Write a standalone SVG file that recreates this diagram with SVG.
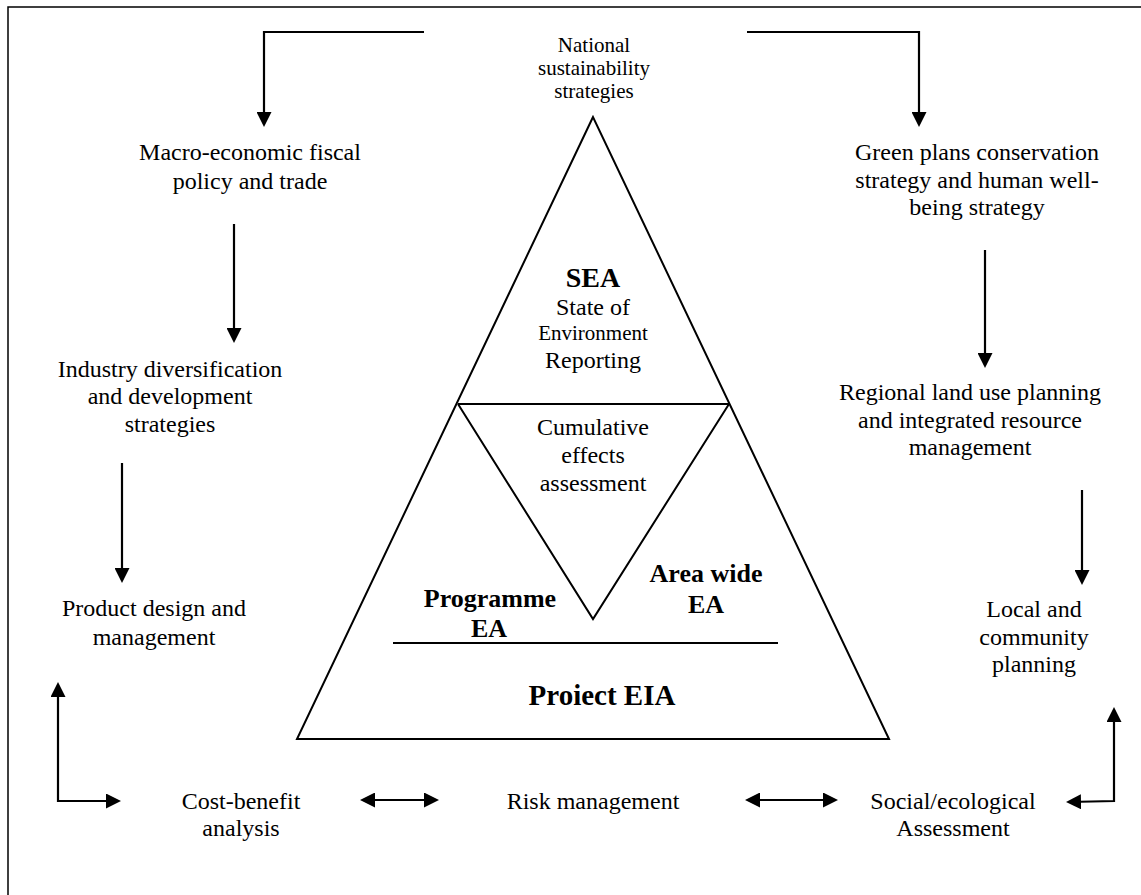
<svg xmlns="http://www.w3.org/2000/svg" width="1141" height="895" viewBox="0 0 1141 895">
  <style>
    .lbl { font-family: "Liberation Serif", "Times New Roman", serif; font-size: 24px; fill: #000; text-anchor: middle; }
    .small { font-size: 21px; }
    .b26 { font-weight: bold; font-size: 26px; }
    .b28 { font-weight: bold; font-size: 28px; }
    .b29 { font-weight: bold; font-size: 29px; }
    .edge { fill: none; stroke: #000; stroke-width: 2.2; }
    .shape { fill: none; stroke: #000; stroke-width: 2; stroke-linejoin: miter; }
    .frame { fill: none; stroke: #000; stroke-width: 1.5; }
  </style>
  <defs>
    <marker id="head" viewBox="0 0 15 15" markerUnits="userSpaceOnUse" markerWidth="15" markerHeight="15" refX="12" refY="7.5" orient="auto-start-reverse">
      <path d="M0,0 L15,7.5 L0,15 z" fill="#000"/>
    </marker>
  </defs>
  <rect width="1141" height="895" fill="#fff"/>

  <!-- page frame: top and left rules only -->
  <g id="frame">
    <path class="frame" d="M8,895 V7 H1141"/>
  </g>

  <!-- pyramid of assessment levels -->
  <g id="pyramid">
    <polygon class="shape" points="593,117 297,739 889,739"/>
    <line class="shape" x1="458" y1="404" x2="729" y2="404" stroke-width="2.4"/>
    <polyline class="shape" points="458,404 593,619 729,404"/>
    <line class="shape" x1="393" y1="643" x2="778" y2="643"/>
  </g>

  <g id="sea">
    <text class="lbl b28" x="593" y="287">SEA</text>
    <text class="lbl" x="593" y="315">State of</text>
    <text class="lbl small" x="593" y="340">Environment</text>
    <text class="lbl" x="593" y="368">Reporting</text>
  </g>
  <g id="cumulative">
    <text class="lbl" x="593" y="435">Cumulative</text>
    <text class="lbl" x="593" y="463">effects</text>
    <text class="lbl" x="593" y="491">assessment</text>
  </g>
  <g id="programme-ea">
    <text class="lbl b26" x="490" y="607">Programme</text>
    <text class="lbl b26" x="489" y="637">EA</text>
  </g>
  <g id="area-wide-ea">
    <text class="lbl b26" x="706" y="582">Area wide</text>
    <text class="lbl b26" x="706" y="613">EA</text>
  </g>
  <g id="project-eia">
    <text class="lbl b29" x="602" y="705">Proiect EIA</text>
  </g>

  <g id="national">
    <text class="lbl small" x="594" y="52">National</text>
    <text class="lbl small" x="594" y="75">sustainability</text>
    <text class="lbl small" x="594" y="98">strategies</text>
  </g>
  <g id="macro">
    <text class="lbl" x="250" y="160">Macro-economic fiscal</text>
    <text class="lbl" x="250" y="189">policy and trade</text>
  </g>
  <g id="industry">
    <text class="lbl" x="170" y="377">Industry diversification</text>
    <text class="lbl" x="170" y="404">and development</text>
    <text class="lbl" x="170" y="432">strategies</text>
  </g>
  <g id="product">
    <text class="lbl" x="154" y="616">Product design and</text>
    <text class="lbl" x="154" y="645">management</text>
  </g>
  <g id="green">
    <text class="lbl" x="977" y="160">Green plans conservation</text>
    <text class="lbl" x="977" y="188">strategy and human well-</text>
    <text class="lbl" x="977" y="215">being strategy</text>
  </g>
  <g id="regional">
    <text class="lbl" x="970" y="400">Regional land use planning</text>
    <text class="lbl" x="970" y="428">and integrated resource</text>
    <text class="lbl" x="970" y="455">management</text>
  </g>
  <g id="local">
    <text class="lbl" x="1034" y="617">Local and</text>
    <text class="lbl" x="1034" y="645">community</text>
    <text class="lbl" x="1034" y="672">planning</text>
  </g>
  <g id="cost-benefit">
    <text class="lbl" x="241" y="809">Cost-benefit</text>
    <text class="lbl" x="241" y="836">analysis</text>
  </g>
  <g id="risk">
    <text class="lbl" x="593" y="809">Risk management</text>
  </g>
  <g id="social">
    <text class="lbl" x="953" y="809">Social/ecological</text>
    <text class="lbl" x="953" y="836">Assessment</text>
  </g>

  <!-- connectors -->
  <g id="connectors">
    <path class="edge" d="M424,32 H264 V124" marker-end="url(#head)"/>
    <path class="edge" d="M747,32 H919 V124" marker-end="url(#head)"/>
    <path class="edge" d="M234,224 V340" marker-end="url(#head)"/>
    <path class="edge" d="M122,463 V580" marker-end="url(#head)"/>
    <path class="edge" d="M985,250 V365" marker-end="url(#head)"/>
    <path class="edge" d="M1082,490 V582" marker-end="url(#head)"/>
    <path class="edge" d="M58,685 V801 H118" marker-start="url(#head)" marker-end="url(#head)"/>
    <path class="edge" d="M363,800 H436" marker-start="url(#head)" marker-end="url(#head)"/>
    <path class="edge" d="M748,800 H835" marker-start="url(#head)" marker-end="url(#head)"/>
    <path class="edge" d="M1069,802 L1114,801 V710" marker-start="url(#head)" marker-end="url(#head)"/>
  </g>
</svg>
